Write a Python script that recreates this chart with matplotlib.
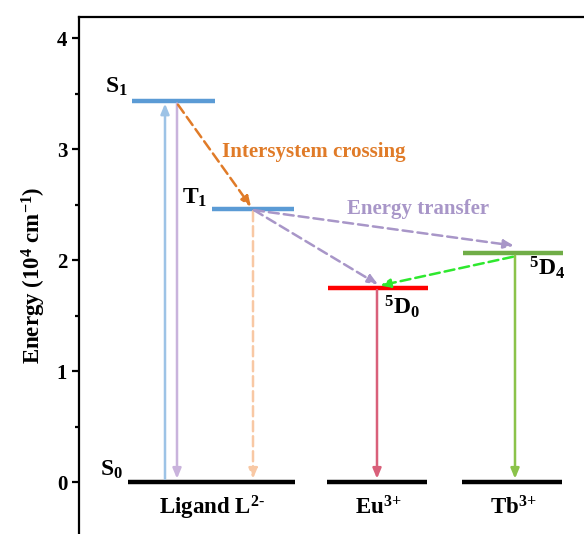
import matplotlib

matplotlib.use("Agg")

import matplotlib.pyplot as plt

# -------------------------------------------------------------------------
# Data (energies in 10^4 cm^-1)
# -------------------------------------------------------------------------

E_S0 = 0.0
E_S1 = 3.43
E_T1 = 2.46
E_5D0 = 1.75
E_5D4 = 2.06

groups = [r"Ligand L$^{2\text{-}}$", r"Eu$^{3\text{+}}$", r"Tb$^{3\text{+}}$"]
yticks = [0, 1, 2, 3, 4]

plt.rcParams["font.family"] = "Liberation Serif"
plt.rcParams["font.weight"] = "bold"
plt.rcParams["mathtext.fontset"] = "custom"
plt.rcParams["mathtext.rm"] = "Liberation Serif:bold"
plt.rcParams["mathtext.it"] = "Liberation Serif:bold"
plt.rcParams["mathtext.bf"] = "Liberation Serif:bold"
plt.rcParams["mathtext.default"] = "rm"

fig = plt.figure(figsize=(5.84, 5.34), dpi=100)
ax = fig.add_axes([79/584, 0.0, 510/584, 1 - 17/534])

ax.set_xlim(79, 589)
ax.set_ylim(-0.468, 4.19)

# -------------------------------------------------------------------------
# Levels
# -------------------------------------------------------------------------

def level(x0, x1, e, color):
    ax.plot([x0, x1], [e, e], color=color, lw=3.2, solid_capstyle="butt")

level(128, 295, E_S0, "black")
level(327, 427, E_S0, "black")
level(462, 562, E_S0, "black")
level(132, 215, E_S1, "#5b9bd5")
level(212, 294, E_T1, "#5b9bd5")
level(328, 428, E_5D0, "#ff0000")
level(463, 563, E_5D4, "#70ad47")

# -------------------------------------------------------------------------
# Arrows
# -------------------------------------------------------------------------

def arrow(x0, y0, x1, y1, color, dashed=False):
    ax.annotate(
        "",
        xy=(x1, y1),
        xytext=(x0, y0),
        arrowprops=dict(
            arrowstyle="-|>,head_length=0.6,head_width=0.25",
            color=color,
            lw=1.8,
            linestyle=(0, (4, 2)) if dashed else "-",
            shrinkA=0,
            shrinkB=0,
        ),
    )

arrow(165, E_S0 + 0.03, 165, E_S1 - 0.02, "#9dc3e6")
arrow(177, E_S1 - 0.02, 177, E_S0 + 0.03, "#c9b3dc")
arrow(178, E_S1 - 0.03, 251, E_T1 + 0.02, "#e07b28", dashed=True)
arrow(253, E_T1 - 0.02, 253, E_S0 + 0.03, "#f8c8a4", dashed=True)
arrow(254, E_T1 - 0.01, 378, E_5D0 + 0.03, "#a896c8", dashed=True)
arrow(254, E_T1 - 0.01, 514, E_5D4 + 0.07, "#a896c8", dashed=True)
arrow(513, E_5D4 - 0.03, 380, E_5D0 + 0.02, "#2ee82e", dashed=True)
arrow(377, E_5D0 - 0.02, 377, E_S0 + 0.03, "#d9607a")
arrow(515, E_5D4 - 0.02, 515, E_S0 + 0.03, "#8bc34a")

# -------------------------------------------------------------------------
# Labels
# -------------------------------------------------------------------------

ax.text(116, 3.56, "S$_1$", fontsize=17, ha="center", va="center")
ax.text(195, 2.56, "T$_1$", fontsize=17, ha="center", va="center")
ax.text(111, 0.11, "S$_0$", fontsize=17, ha="center", va="center")
ax.text(402, 1.58, "$^5$D$_0$", fontsize=17, ha="center", va="center")
ax.text(547, 1.93, "$^5$D$_4$", fontsize=17, ha="center", va="center")

ax.text(314, 2.97, "Intersystem crossing", fontsize=15, color="#e07b28",
        ha="center", va="center")
ax.text(418, 2.46, "Energy transfer", fontsize=15, color="#a896c8",
        ha="center", va="center")

for xc, name in zip([212, 378, 513], groups):
    ax.text(xc, -0.23, name, fontsize=16.5, ha="center", va="center")

# -------------------------------------------------------------------------
# Axes
# -------------------------------------------------------------------------

ax.spines["right"].set_visible(False)
ax.spines["bottom"].set_visible(False)
for s in ["left", "top"]:
    ax.spines[s].set_linewidth(1.6)

ax.set_xticks([])
ax.set_yticks(yticks)
ax.set_yticks([0.5, 1.5, 2.5, 3.5], minor=True)
ax.tick_params(axis="y", which="major", direction="out", length=5, width=1.6,
               labelsize=15)
ax.tick_params(axis="y", which="minor", direction="out", length=3, width=1.6)

ax.set_ylabel("Energy (10$^4$ cm$^{-1}$)", fontsize=16.5, fontweight="bold",
              labelpad=6)

fig.savefig("out.png", dpi=100)
